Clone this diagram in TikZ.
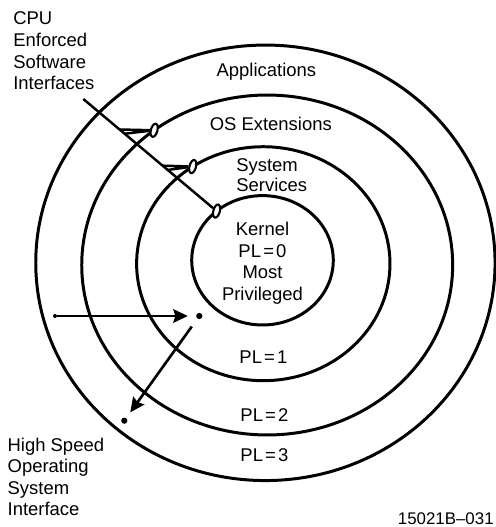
\documentclass[tikz,border=0pt]{standalone}
\usepackage{fontspec}
\setmainfont{Liberation Sans}
\usetikzlibrary{shapes.geometric,arrows.meta,calc}
\newcommand\plEq{\kern0.12em=\kern0.12em}
\begin{document}
\begin{tikzpicture}[x=0.02cm,y=-0.02cm,
  ring/.style={ellipse,draw,line width=1.7pt,inner sep=0pt,outer sep=0pt},
  portmark/.style={ellipse,draw,fill=white,line width=1.2pt,inner sep=0pt,
    minimum width=0.13cm,minimum height=0.27cm,rotate=-15},
  conn/.style={line width=1.4pt},
  arrowline/.style={line width=1.5pt,-{Stealth[length=0.29cm,width=0.27cm,inset=0.04cm]}},
  dotbig/.style={circle,fill,inner sep=0pt,minimum size=0.125cm},
  dotsmall/.style={circle,fill,inner sep=0pt,minimum size=0.08cm},
  txt/.style={inner sep=0pt,font=\fontsize{10.5}{12.3}\selectfont}
]
\useasboundingbox (0,0) rectangle (496,527);

% rings
\node[ring, minimum width=9.188cm, minimum height=8.712cm] (pl3) at (265.4,262.8) {};
\node[ring, minimum width=7.42cm, minimum height=6.8cm] (pl2) at (267.2,265) {};
\node[ring, minimum width=5.068cm, minimum height=4.68cm] (pl1) at (263.3,263.7) {};
\node[ring, minimum width=2.832cm, minimum height=2.588cm] (pl0) at (262.5,260.3) {};

% interface markers
\node[portmark] (m1) at (pl2.130) {};
\node[portmark] (m2) at (pl1.126) {};
\node[portmark] (m3) at (pl0.133) {};

% CPU enforced interface lines
\coordinate (cpu) at (83.3,99);
\draw[conn] (cpu) -- (m3);
\coordinate (w1a) at ($(cpu)!0.272!(m3.center)$);
\coordinate (w1b) at ($(cpu)!0.31!(m3.center)$);
\coordinate (w2a) at ($(cpu)!0.595!(m3.center)$);
\coordinate (w2b) at ($(cpu)!0.633!(m3.center)$);
\draw[conn] (w1a) -- (m1) (w1b) -- (m1);
\draw[conn] (w2a) -- (m2) (w2b) -- (m2);

% high speed interface arrows
\node[dotsmall] (d0) at (55,316) {};
\node[dotbig] (d1) at (199.3,316) {};
\node[dotbig] (d2) at (124.3,420.7) {};
\draw[arrowline, shorten >=0.16cm] (d0) -- (d1);
\draw[arrowline, shorten <=0.19cm, shorten >=0.136cm] (d1) -- (d2);

% labels
\node[txt, anchor=north west, align=left] (cpulbl) at (13,11.7) {CPU\\Enforced\\Software\\Interfaces};
\node[txt, anchor=base] (app) at (266.4,76.7) {Applications};
\node[txt, anchor=base] (osx) at (270.8,130.7) {OS Extensions};
\node[txt, anchor=north west, align=left, font=\fontsize{10.5}{11.5}\selectfont] (sys) at (236,158.3) {System\\Services};
\node[txt, anchor=north, align=center] (kern) at (262.5,222) {Kernel\\PL\plEq 0\\Most\\Privileged};
\node[txt, anchor=base] (pl1t) at (263.5,363) {PL\plEq 1};
\node[txt, anchor=base] (pl2t) at (264.5,421) {PL\plEq 2};
\node[txt, anchor=base] (pl3t) at (264.5,461) {PL\plEq 3};
\node[txt, anchor=north west, align=left] (hs) at (7.3,437.3) {High Speed\\Operating\\System\\Interface};
\node[txt, font=\fontsize{9.6}{11}\selectfont, anchor=base east] (figid) at (494,524.5) {15021B–031};
\end{tikzpicture}
\end{document}
